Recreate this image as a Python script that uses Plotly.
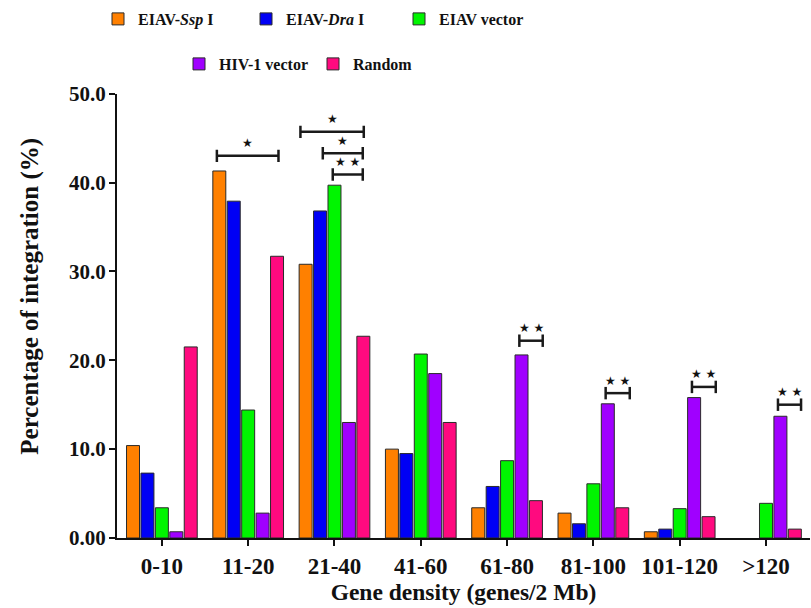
import plotly.graph_objects as go

categories = ["0-10", "11-20", "21-40", "41-60", "61-80", "81-100", "101-120", ">120"]
series_names = ["EIAV-<i>Ssp</i> I", "EIAV-<i>Dra</i> I", "EIAV vector", "HIV-1 vector", "Random"]
ssp = [10.4, 41.3, 30.8, 10.0, 3.4, 2.8, 0.7, None]
dra = [7.3, 37.9, 36.8, 9.5, 5.8, 1.6, 1.0, None]
vector = [3.4, 14.4, 39.7, 20.7, 8.7, 6.1, 3.3, 3.9]
hiv = [0.7, 2.8, 13.0, 18.5, 20.6, 15.1, 15.8, 13.7]
random_ = [21.5, 31.7, 22.7, 13.0, 4.2, 3.4, 2.4, 1.0]
colors = ["#FF8000", "#0000F5", "#00F500", "#A000FF", "#FF0A7F"]
y_tickvals = [0, 10, 20, 30, 40, 50]
y_ticktext = ["0.00", "10.0", "20.0", "30.0", "40.0", "50.0"]

# significance brackets: category index, left / right end (in bar-slot units from group centre), level, stars
br_cat = [1, 2, 2, 2, 4, 5, 6, 7]
br_left = [-2.17, -2.36, -0.81, -0.12, 0.85, 0.85, 0.85, 0.83]
br_right = [2.10, 2.03, 1.96, 1.96, 2.47, 2.52, 2.50, 2.43]
br_level = [43.0, 45.7, 43.3, 40.9, 22.2, 16.3, 17.0, 15.0]
br_stars = ["★", "★", "★", "★ ★", "★ ★", "★ ★", "★ ★", "★ ★"]

all_vals = [ssp, dra, vector, hiv, random_]

BARGAP = 0.164
SLOT = (1 - BARGAP) / 5

fig = go.Figure()
legend_ids = ["legend", "legend2", "legend3", "legend4", "legend5"]
for name, vals, col, lg in zip(series_names, all_vals, colors, legend_ids):
    fig.add_trace(go.Bar(
        x=list(range(len(categories))), y=vals, name="<b>%s</b>" % name,
        marker=dict(color=col, line=dict(color="#2a2a2a", width=1)),
        legend=lg, showlegend=True,
    ))

shapes = []
annotations = []
for c, l, r, lev, st in zip(br_cat, br_left, br_right, br_level, br_stars):
    x0 = c + l * SLOT
    x1 = c + r * SLOT
    cap = 0.7
    line = dict(color="#1a1a1a", width=2.5)
    shapes.append(dict(type="line", xref="x", yref="y", x0=x0, x1=x1, y0=lev, y1=lev, line=line))
    shapes.append(dict(type="line", xref="x", yref="y", x0=x0, x1=x0, y0=lev - cap, y1=lev + cap, line=line))
    shapes.append(dict(type="line", xref="x", yref="y", x0=x1, x1=x1, y0=lev - cap, y1=lev + cap, line=line))
    annotations.append(dict(x=(x0 + x1) / 2, y=lev + 0.4, xref="x", yref="y", text=st,
                            showarrow=False, yanchor="bottom",
                            font=dict(family="DejaVu Sans", size=12, color="#111")))

font_family = "Liberation Serif"

# y-axis title as rotated text (sits slightly above the plot centre in the reference)
annotations.append(dict(
    text="<b>Percentage of integration (%)</b>", textangle=-90,
    xref="paper", yref="paper", x=(30 - 117) / 693, y=(538 - 286) / 464,
    xanchor="center", yanchor="middle", showarrow=False,
    font=dict(family=font_family, size=25, color="#111"),
))

layout_legends = {}
leg_pos = [(98, 19), (246, 19), (399, 19), (179, 64), (313, 64)]
for lg, (px, py) in zip(legend_ids, leg_pos):
    layout_legends[lg] = dict(
        x=px / 811, y=1 - py / 608, xref="container", yref="container",
        xanchor="left", yanchor="middle", orientation="h",
        font=dict(family=font_family, size=16, color="#111"),
        bgcolor="rgba(0,0,0,0)", borderwidth=0, visible=True,
    )

fig.update_layout(
    width=811, height=608,
    margin=dict(l=117, r=1, t=74, b=70),
    paper_bgcolor="white", plot_bgcolor="white",
    barmode="group", bargap=BARGAP, bargroupgap=0.1,
    font=dict(family=font_family, color="#111"),
    shapes=shapes, annotations=annotations, showlegend=True,
    **layout_legends,
)
fig.update_xaxes(
    range=[-0.52, 7.51], tickvals=list(range(len(categories))),
    ticktext=["<b>%s</b>" % t for t in categories],
    showline=True, linecolor="#111", linewidth=2, ticks="outside", ticklen=6, tickwidth=2,
    tickcolor="#111", showgrid=False, zeroline=False,
    tickfont=dict(family=font_family, size=23, color="#111"),
    title=dict(text="<b>Gene density (genes/2 Mb)</b>", font=dict(family=font_family, size=23.5, color="#111"), standoff=6),
)
fig.update_yaxes(
    range=[0, 50], tickvals=y_tickvals, ticktext=["<b>%s</b>" % t for t in y_ticktext],
    showline=True, linecolor="#111", linewidth=2, ticks="outside", ticklen=6, tickwidth=2,
    tickcolor="#111", showgrid=False, zeroline=False, ticklabelstandoff=-1,
    tickfont=dict(family=font_family, size=21, color="#111"),
)

fig.write_html("out.html")
